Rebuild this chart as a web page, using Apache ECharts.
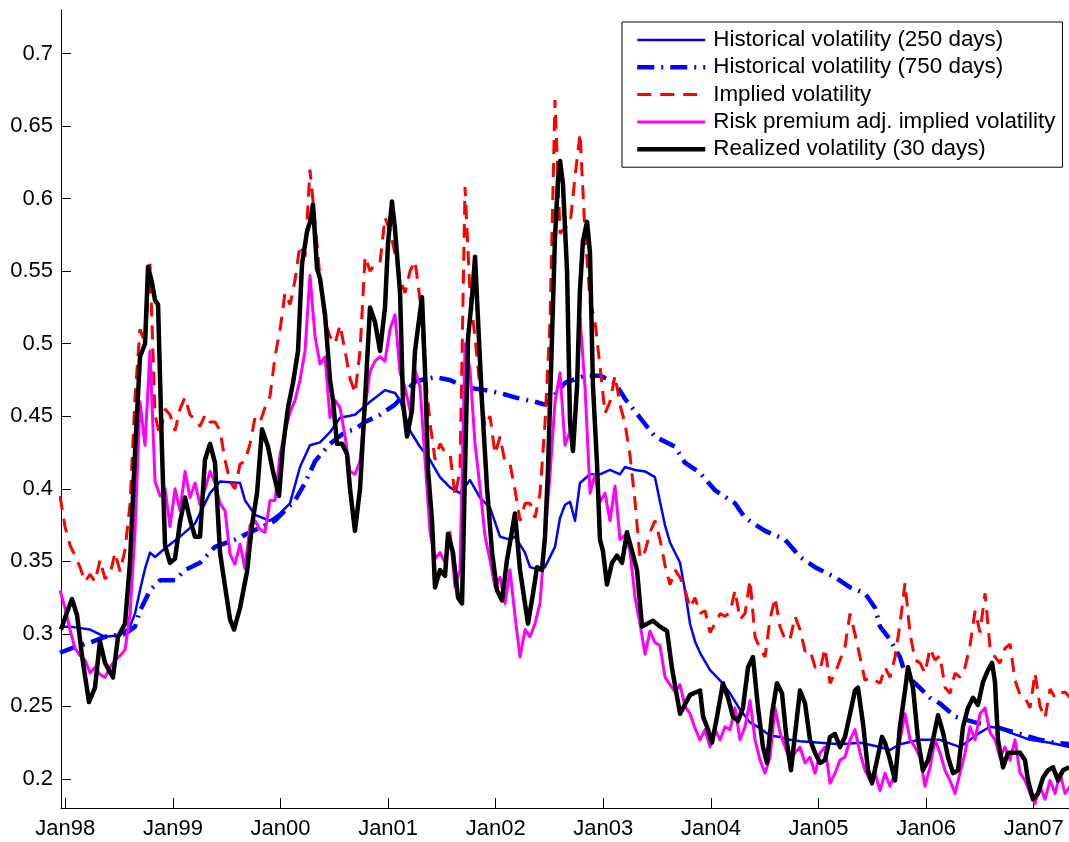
<!DOCTYPE html>
<html><head><meta charset="utf-8">
<script src="https://cdn.jsdelivr.net/npm/echarts@6/dist/echarts.min.js"></script>
<style>html,body{margin:0;padding:0;background:#fff}#c{width:1069px;height:842px}</style>
</head><body><div id="c"></div>
<script>
// ---- tick labels ----
const xTickYears = [1998,1999,2000,2001,2002,2003,2004,2005,2006,2007];
const xTickLabels = ['Jan98','Jan99','Jan00','Jan01','Jan02','Jan03','Jan04','Jan05','Jan06','Jan07'];
const yTickValues = [0.2,0.25,0.3,0.35,0.4,0.45,0.5,0.55,0.6,0.65,0.7];

// ---- series names ----
const seriesNames = ['Historical volatility (250 days)','Historical volatility (750 days)','Implied volatility','Risk premium adj. implied volatility','Realized volatility (30 days)'];

// ---- Historical volatility (250 days): time (decimal year), value ----
const hv250T = [1997.951,1998.044,1998.230,1998.369,1998.508,1998.601,1998.648,1998.694,1998.741,1998.787,
1998.834,1998.927,1999.066,1999.205,1999.345,1999.438,1999.624,1999.670,1999.763,1999.902,
1999.995,2000.088,2000.181,2000.274,2000.367,2000.460,2000.553,2000.692,2000.832,2000.971,
2001.064,2001.111,2001.204,2001.296,2001.389,2001.482,2001.575,2001.668,2001.761,2001.854,
2001.947,2002.040,2002.133,2002.179,2002.272,2002.319,2002.412,2002.458,2002.551,2002.598,
2002.644,2002.691,2002.737,2002.783,2002.876,2002.969,2003.062,2003.155,2003.202,2003.295,
2003.388,2003.480,2003.527,2003.573,2003.620,2003.713,2003.759,2003.806,2003.852,2003.899,
2003.992,2004.085,2004.178,2004.270,2004.363,2004.456,2004.549,2004.642,2004.735,2004.828,
2005.014,2005.200,2005.386,2005.572,2005.665,2005.757,2005.943,2006.129,2006.315,2006.408,
2006.501,2006.594,2006.687,2006.780,2006.966,2007.152,2007.337];
const hv250V = [0.305,0.305,0.303,0.298,0.299,0.305,0.314,0.33,0.345,0.356,
0.353,0.359,0.367,0.376,0.397,0.405,0.404,0.392,0.382,0.378,
0.383,0.39,0.415,0.43,0.432,0.439,0.449,0.451,0.46,0.468,
0.466,0.461,0.44,0.429,0.42,0.408,0.401,0.397,0.406,0.394,
0.387,0.367,0.365,0.367,0.356,0.346,0.344,0.346,0.36,0.38,
0.389,0.391,0.378,0.404,0.41,0.41,0.413,0.41,0.415,0.413,
0.412,0.408,0.391,0.375,0.363,0.349,0.33,0.307,0.295,0.287,
0.275,0.268,0.259,0.248,0.239,0.235,0.23,0.229,0.227,0.226,
0.225,0.224,0.225,0.222,0.22,0.224,0.227,0.227,0.222,0.227,
0.232,0.236,0.235,0.232,0.227,0.225,0.222];

// ---- Historical volatility (750 days) ----
const hv750T = [1997.951,1998.090,1998.230,1998.369,1998.555,1998.648,1998.694,1998.787,1998.880,1999.020,
1999.112,1999.252,1999.391,1999.577,1999.717,1999.949,2000.135,2000.228,2000.321,2000.460,
2000.599,2000.692,2000.785,2000.925,2001.064,2001.157,2001.250,2001.436,2001.575,2001.715,
2001.901,2002.040,2002.179,2002.365,2002.458,2002.551,2002.644,2002.830,2002.969,2003.109,
2003.202,2003.341,2003.480,2003.666,2003.759,2003.899,2004.038,2004.224,2004.317,2004.503,
2004.689,2004.828,2004.968,2005.153,2005.293,2005.432,2005.525,2005.572,2005.665,2005.757,
2005.804,2005.897,2006.036,2006.129,2006.269,2006.455,2006.594,2006.733,2006.919,2007.059,
2007.198,2007.337];
const hv750V = [0.287,0.291,0.294,0.298,0.30,0.305,0.316,0.33,0.337,0.337,
0.344,0.349,0.36,0.365,0.37,0.378,0.392,0.404,0.419,0.431,
0.439,0.441,0.446,0.451,0.458,0.466,0.474,0.477,0.475,0.47,
0.468,0.466,0.463,0.46,0.458,0.465,0.473,0.478,0.478,0.473,
0.462,0.449,0.436,0.429,0.418,0.411,0.399,0.39,0.38,0.371,
0.365,0.353,0.346,0.339,0.332,0.328,0.318,0.305,0.296,0.284,
0.273,0.266,0.256,0.252,0.243,0.239,0.237,0.234,0.23,0.227,
0.225,0.224];

// ---- Implied and risk-premium adjusted implied volatility: sampled about every 17 days ----
const sampleStart = 1997.951, sampleStep = 0.046468, sampleCount = 203;
const sampleT = Array.from({length: sampleCount}, (_, i) => +(sampleStart + i * sampleStep).toFixed(3));
const ivV = [0.395,0.374,0.361,0.354,0.346,0.336,0.341,0.336,0.351,0.338,
0.341,0.356,0.343,0.358,0.39,0.463,0.51,0.5,0.555,0.451,
0.436,0.455,0.451,0.44,0.455,0.463,0.451,0.448,0.443,0.451,
0.446,0.446,0.44,0.42,0.405,0.40,0.417,0.419,0.431,0.449,
0.446,0.456,0.464,0.491,0.51,0.535,0.527,0.544,0.568,0.56,
0.62,0.584,0.545,0.515,0.505,0.50,0.513,0.495,0.476,0.466,
0.495,0.56,0.55,0.555,0.556,0.587,0.578,0.562,0.545,0.535,
0.55,0.557,0.53,0.482,0.445,0.42,0.431,0.425,0.424,0.395,
0.413,0.608,0.535,0.504,0.47,0.443,0.45,0.424,0.436,0.418,
0.417,0.399,0.378,0.39,0.39,0.38,0.397,0.445,0.516,0.668,
0.576,0.58,0.582,0.615,0.645,0.576,0.53,0.515,0.484,0.452,
0.46,0.478,0.458,0.445,0.423,0.391,0.352,0.357,0.37,0.378,
0.365,0.347,0.334,0.344,0.339,0.33,0.318,0.325,0.314,0.316,
0.301,0.307,0.314,0.312,0.315,0.33,0.31,0.314,0.337,0.298,
0.29,0.284,0.31,0.325,0.305,0.296,0.296,0.312,0.303,0.288,
0.289,0.277,0.275,0.29,0.266,0.273,0.282,0.291,0.314,0.3,
0.284,0.268,0.27,0.268,0.266,0.277,0.27,0.284,0.307,0.335,
0.30,0.282,0.28,0.273,0.29,0.282,0.285,0.263,0.259,0.273,
0.27,0.277,0.292,0.316,0.301,0.328,0.291,0.284,0.28,0.29,
0.293,0.268,0.258,0.256,0.249,0.273,0.25,0.242,0.262,0.256,
0.259,0.26,0.256];
const rpV = [0.33,0.318,0.303,0.29,0.285,0.282,0.273,0.277,0.272,0.27,
0.277,0.282,0.285,0.289,0.314,0.371,0.46,0.43,0.495,0.405,
0.395,0.40,0.374,0.40,0.385,0.412,0.394,0.404,0.389,0.40,
0.412,0.404,0.39,0.385,0.355,0.348,0.362,0.345,0.375,0.378,
0.372,0.37,0.392,0.392,0.424,0.439,0.453,0.461,0.475,0.495,
0.547,0.505,0.486,0.491,0.449,0.461,0.456,0.436,0.412,0.41,
0.419,0.456,0.481,0.488,0.491,0.488,0.51,0.52,0.48,0.47,
0.454,0.482,0.47,0.42,0.37,0.352,0.356,0.349,0.37,0.332,
0.344,0.5,0.482,0.431,0.401,0.367,0.351,0.332,0.339,0.321,
0.344,0.312,0.284,0.303,0.298,0.307,0.321,0.367,0.41,0.46,
0.48,0.43,0.44,0.445,0.518,0.47,0.397,0.41,0.391,0.397,
0.378,0.402,0.365,0.368,0.357,0.325,0.307,0.286,0.302,0.294,
0.292,0.27,0.265,0.26,0.265,0.25,0.245,0.235,0.227,0.234,
0.222,0.234,0.227,0.236,0.234,0.249,0.227,0.236,0.254,0.227,
0.213,0.204,0.215,0.249,0.232,0.222,0.213,0.218,0.222,0.211,
0.215,0.204,0.218,0.222,0.197,0.204,0.213,0.215,0.227,0.234,
0.218,0.206,0.199,0.204,0.192,0.204,0.195,0.204,0.227,0.245,
0.227,0.222,0.215,0.195,0.208,0.227,0.218,0.206,0.199,0.19,
0.204,0.218,0.236,0.227,0.245,0.249,0.232,0.227,0.215,0.222,
0.213,0.227,0.204,0.199,0.19,0.183,0.195,0.186,0.199,0.19,
0.204,0.19,0.195];

// ---- Realized volatility (30 days) ----
const rvT = [1997.960,1998.016,1998.062,1998.109,1998.155,1998.220,1998.276,1998.322,1998.369,1998.443,
1998.490,1998.555,1998.601,1998.648,1998.694,1998.741,1998.769,1998.806,1998.834,1998.862,
1998.899,1998.927,1998.973,1999.020,1999.066,1999.112,1999.159,1999.205,1999.252,1999.298,
1999.345,1999.391,1999.438,1999.484,1999.531,1999.568,1999.624,1999.689,1999.735,1999.782,
1999.828,1999.884,1999.930,1999.986,2000.023,2000.070,2000.116,2000.163,2000.200,2000.246,
2000.274,2000.302,2000.339,2000.367,2000.414,2000.460,2000.488,2000.525,2000.572,2000.618,
2000.646,2000.692,2000.739,2000.785,2000.832,2000.878,2000.925,2000.971,2000.999,2001.036,
2001.064,2001.111,2001.139,2001.176,2001.222,2001.250,2001.278,2001.315,2001.343,2001.371,
2001.408,2001.436,2001.482,2001.529,2001.557,2001.603,2001.650,2001.687,2001.715,2001.743,
2001.780,2001.808,2001.836,2001.873,2001.919,2001.966,2002.012,2002.059,2002.105,2002.152,
2002.179,2002.226,2002.272,2002.300,2002.347,2002.384,2002.430,2002.458,2002.486,2002.523,
2002.551,2002.579,2002.598,2002.625,2002.663,2002.691,2002.718,2002.756,2002.783,2002.811,
2002.849,2002.876,2002.904,2002.941,2002.969,2002.997,2003.034,2003.081,2003.127,2003.174,
2003.220,2003.267,2003.313,2003.360,2003.406,2003.462,2003.527,2003.592,2003.639,2003.713,
2003.806,2003.899,2003.927,2003.964,2004.010,2004.057,2004.112,2004.159,2004.205,2004.252,
2004.298,2004.345,2004.391,2004.438,2004.484,2004.521,2004.568,2004.614,2004.661,2004.707,
2004.744,2004.782,2004.828,2004.875,2004.921,2004.968,2005.014,2005.060,2005.107,2005.153,
2005.200,2005.246,2005.293,2005.339,2005.367,2005.414,2005.460,2005.497,2005.544,2005.590,
2005.618,2005.665,2005.711,2005.757,2005.804,2005.832,2005.878,2005.925,2005.971,2006.018,
2006.064,2006.111,2006.157,2006.204,2006.250,2006.297,2006.343,2006.389,2006.436,2006.482,
2006.529,2006.575,2006.613,2006.640,2006.668,2006.715,2006.761,2006.808,2006.873,2006.919,
2006.947,2006.994,2007.040,2007.087,2007.133,2007.179,2007.226,2007.272,2007.328];
const rvV = [0.303,0.315,0.324,0.313,0.285,0.253,0.263,0.295,0.28,0.27,
0.298,0.307,0.349,0.425,0.491,0.50,0.553,0.542,0.53,0.527,
0.425,0.361,0.349,0.352,0.377,0.394,0.379,0.367,0.367,0.42,
0.431,0.418,0.356,0.333,0.31,0.303,0.318,0.343,0.375,0.397,
0.441,0.429,0.412,0.395,0.429,0.456,0.473,0.495,0.555,0.577,
0.584,0.596,0.552,0.545,0.52,0.475,0.461,0.431,0.431,0.424,
0.40,0.371,0.40,0.461,0.525,0.515,0.495,0.525,0.569,0.598,
0.579,0.535,0.459,0.436,0.454,0.495,0.511,0.532,0.482,0.413,
0.378,0.332,0.344,0.34,0.369,0.356,0.325,0.321,0.413,0.504,
0.532,0.56,0.516,0.459,0.401,0.356,0.33,0.323,0.351,0.371,
0.383,0.344,0.321,0.307,0.328,0.346,0.344,0.367,0.413,0.504,
0.573,0.613,0.626,0.61,0.55,0.445,0.426,0.471,0.537,0.571,
0.584,0.563,0.471,0.418,0.365,0.357,0.334,0.349,0.354,0.349,
0.37,0.357,0.344,0.305,0.307,0.309,0.305,0.302,0.276,0.245,
0.258,0.261,0.243,0.236,0.225,0.243,0.266,0.256,0.243,0.24,
0.249,0.277,0.284,0.249,0.222,0.211,0.245,0.266,0.259,0.225,
0.206,0.231,0.261,0.252,0.227,0.218,0.211,0.213,0.229,0.231,
0.222,0.229,0.245,0.261,0.263,0.238,0.206,0.197,0.213,0.229,
0.225,0.213,0.199,0.236,0.261,0.277,0.263,0.227,0.206,0.213,
0.227,0.244,0.232,0.215,0.204,0.206,0.236,0.249,0.256,0.251,
0.267,0.275,0.28,0.267,0.227,0.208,0.218,0.218,0.218,0.213,
0.199,0.186,0.19,0.201,0.206,0.208,0.199,0.206,0.208];

const zip = (t, v) => t.map((x, i) => [x, v[i]]);
const FONT = "'Liberation Sans', Arial, Helvetica, sans-serif";
const colors = ['#0000ff', '#0000ff', '#ff0000', '#ff00ff', '#000000'];

const chart = echarts.init(document.getElementById('c'), null, {renderer: 'canvas'});
chart.setOption({
  animation: false,
  backgroundColor: '#fff',
  color: colors,
  textStyle: {fontFamily: FONT},
  grid: {left: 61, right: 0, top: 10, bottom: 34, containLabel: false},
  xAxis: {
    type: 'value', min: 1997.96, max: 2007.328,
    axisLine: {show: true, onZero: false, lineStyle: {color: '#000', width: 1}},
    axisTick: {show: true, inside: true, length: 10, customValues: xTickYears, lineStyle: {color: '#000', width: 1}},
    axisLabel: {customValues: xTickYears, formatter: v => xTickLabels[xTickYears.indexOf(Math.round(v))],
      margin: 10, fontSize: 22, color: '#000', fontFamily: FONT},
    splitLine: {show: false}
  },
  yAxis: {
    type: 'value', min: 0.18, max: 0.73,
    axisLine: {show: true, onZero: false, lineStyle: {color: '#000', width: 1}},
    axisTick: {show: true, inside: true, length: 10, customValues: yTickValues, lineStyle: {color: '#000', width: 1}},
    axisLabel: {customValues: yTickValues, formatter: v => String(+v.toFixed(2)),
      margin: 8, fontSize: 22, color: '#000', fontFamily: FONT},
    splitLine: {show: false}
  },
  legend: {
    orient: 'vertical', left: 622, top: 22,
    itemWidth: 68, itemHeight: 14, itemGap: 5.3,
    padding: [7, 7, 7, 13],
    borderColor: '#000', borderWidth: 1, backgroundColor: '#fff',
    selectedMode: false,
    itemStyle: {opacity: 0},
    lineStyle: {width: 'inherit', type: 'inherit'},
    textStyle: {fontSize: 22.4, lineHeight: 22, color: '#000', fontFamily: FONT, padding: [0, 0, 0, 3]},
    data: seriesNames
  },
  series: [
    {name: seriesNames[0], type: 'line', data: zip(hv250T, hv250V), symbol: 'none', z: 2,
      itemStyle: {color: colors[0]},
      lineStyle: {color: colors[0], width: 2.5, join: 'round'}},
    {name: seriesNames[1], type: 'line', data: zip(hv750T, hv750V), symbol: 'none', z: 3,
      itemStyle: {color: colors[1]},
      lineStyle: {color: colors[1], width: 4.5, type: [17, 7, 2, 7], cap: 'butt'}},
    {name: seriesNames[2], type: 'line', data: zip(sampleT, ivV), symbol: 'none', z: 4,
      itemStyle: {color: colors[2]},
      lineStyle: {color: colors[2], width: 3, type: [14, 9], cap: 'butt'}},
    {name: seriesNames[3], type: 'line', data: zip(sampleT, rpV), symbol: 'none', z: 5,
      itemStyle: {color: colors[3]},
      lineStyle: {color: colors[3], width: 3, join: 'round'}},
    {name: seriesNames[4], type: 'line', data: zip(rvT, rvV), symbol: 'none', z: 6,
      itemStyle: {color: colors[4]},
      lineStyle: {color: colors[4], width: 4.5, join: 'round'}}
  ]
});
</script></body></html>
